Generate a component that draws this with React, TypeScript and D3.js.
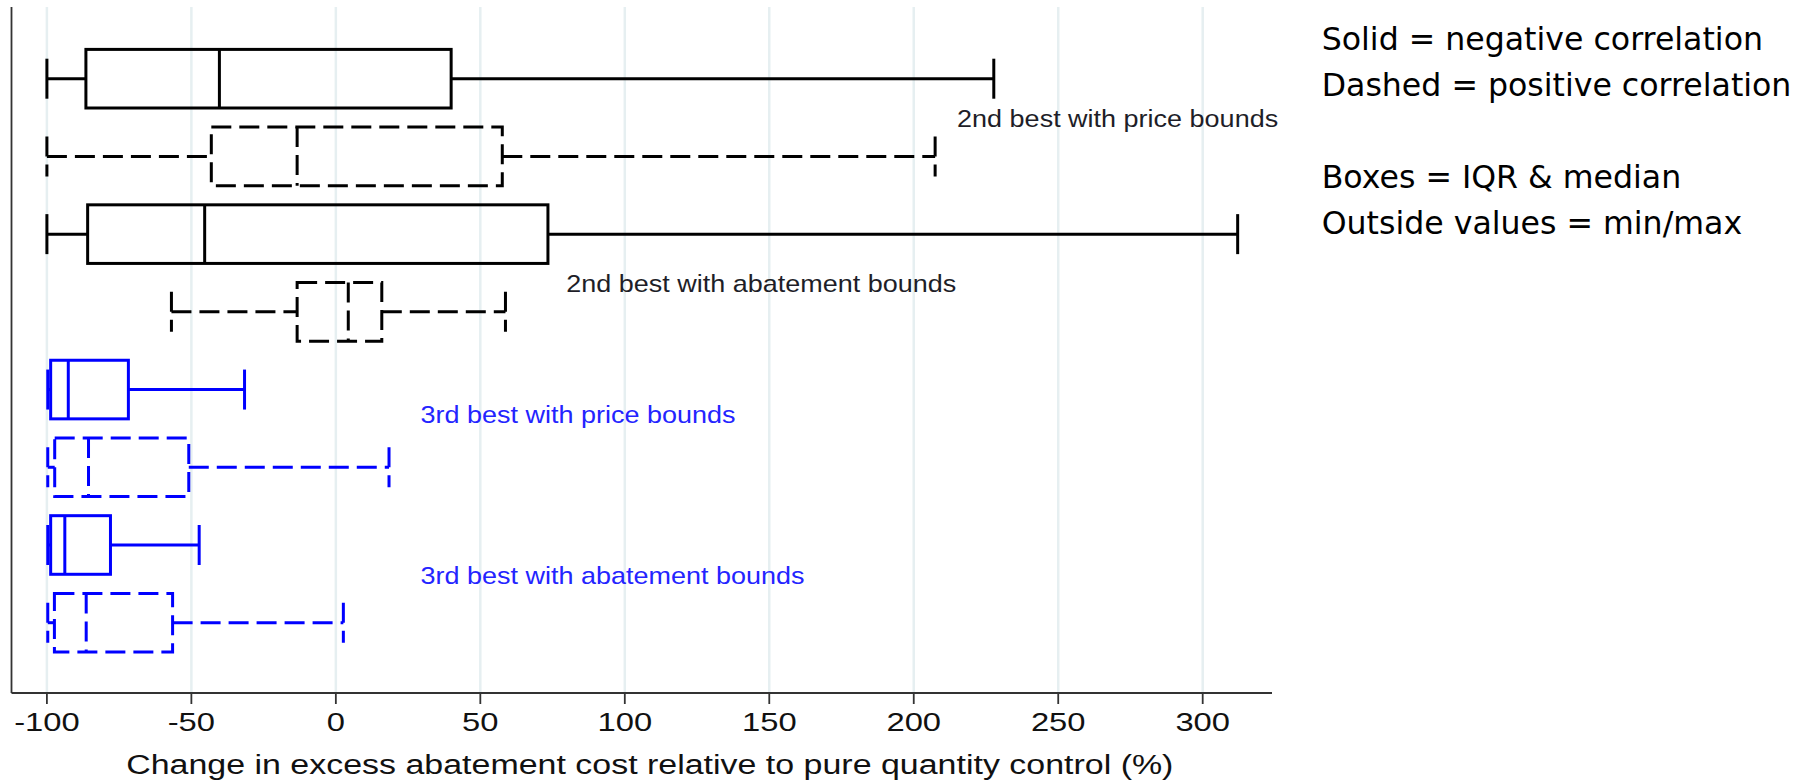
import React from 'react';
import * as d3 from 'd3';

// ---- data ----
const categories = [
  '2nd best price bounds (neg)',
  '2nd best price bounds (pos)',
  '2nd best abatement bounds (neg)',
  '2nd best abatement bounds (pos)',
  '3rd best price bounds (neg)',
  '3rd best price bounds (pos)',
  '3rd best abatement bounds (neg)',
  '3rd best abatement bounds (pos)',
];
const mins = [-100, -100, -100, -56.9, -99.7, -99.7, -99.7, -99.7];
const q1s = [-86.5, -43.1, -85.9, -13.4, -98.7, -97.3, -98.7, -97.4];
const medians = [-40.3, -13.4, -45.4, 4.3, -92.6, -85.6, -93.8, -86.4];
const q3s = [39.9, 57.6, 73.4, 15.9, -71.8, -50.9, -78.0, -56.5];
const maxs = [227.7, 207.4, 312.1, 58.7, -31.6, 18.4, -47.3, 2.6];
const dashedFlags = [false, true, false, true, false, true, false, true];
const seriesColors = ['#000000', '#000000', '#000000', '#000000', '#0000ff', '#0000ff', '#0000ff', '#0000ff'];

const xTicks = [-100, -50, 0, 50, 100, 150, 200, 250, 300];
const xTitle = 'Change in excess abatement cost relative to pure quantity control (%)';

const labelTexts = [
  '2nd best with price bounds',
  '2nd best with abatement bounds',
  '3rd best with price bounds',
  '3rd best with abatement bounds',
];
const labelXValues = [215, 79.7, 29.3, 29.3];
const labelRows = [0.51, 2.625, 4.32, 6.39];
const labelColors = ['#1e1e28', '#1e1e28', '#2424ff', '#2424ff'];

const legendLines = [
  'Solid = negative correlation',
  'Dashed = positive correlation',
  '',
  'Boxes = IQR & median',
  'Outside values = min/max',
];

export default function App() {
  const W = 1812;
  const H = 781;
  const plotTop = 7;
  const plotBottom = 693;
  const plotLeft = 11.5;
  const plotRight = 1272;

  const x = d3.scaleLinear().domain([-100, 300]).range([46.9, 1202.7]);
  const y = d3.scalePoint<string>().domain(categories).range([78.7, 622.7]);
  const rowY = d3.scaleLinear().domain([0, categories.length - 1]).range([78.7, 622.7]);

  const boxHalf = 29.3;
  const capHalf = 20;
  const sw = 3;
  const dash = '20 8';
  const arial = '"Liberation Sans", Arial, Helvetica, sans-serif';

  const boxes = categories.map((c, i) => {
    const cy = y(c) as number;
    const color = seriesColors[i];
    const da = dashedFlags[i] ? dash : undefined;
    const common = { stroke: color, strokeWidth: sw, fill: 'none', strokeDasharray: da } as any;
    return (
      <g key={c}>
        {/* lower whisker */}
        <line x1={x(mins[i])} x2={x(q1s[i])} y1={cy} y2={cy} {...common} />
        <line x1={x(mins[i])} x2={x(mins[i])} y1={cy - capHalf} y2={cy + capHalf} {...common} />
        {/* upper whisker */}
        <line x1={x(q3s[i])} x2={x(maxs[i])} y1={cy} y2={cy} {...common} />
        <line x1={x(maxs[i])} x2={x(maxs[i])} y1={cy - capHalf} y2={cy + capHalf} {...common} />
        {/* box */}
        <rect x={x(q1s[i])} y={cy - boxHalf} width={x(q3s[i]) - x(q1s[i])} height={boxHalf * 2} {...common} />
        {/* median */}
        <line x1={x(medians[i])} x2={x(medians[i])} y1={cy - boxHalf} y2={cy + boxHalf} {...common} />
      </g>
    );
  });

  return (
    <svg width={W} height={H} viewBox={`0 0 ${W} ${H}`} style={{ position: 'absolute', left: 0, top: 0, background: '#fff' }}>
      <rect x={0} y={0} width={W} height={H} fill="#ffffff" />
      {/* gridlines */}
      {xTicks.map((t) => (
        <line key={'g' + t} x1={x(t)} x2={x(t)} y1={plotTop} y2={plotBottom} stroke="#e6eff1" strokeWidth={2.5} />
      ))}
      {/* axes */}
      <line x1={plotLeft} x2={plotLeft} y1={plotTop} y2={plotBottom} stroke="#333" strokeWidth={1.8} />
      <line x1={plotLeft} x2={plotRight} y1={plotBottom} y2={plotBottom} stroke="#333" strokeWidth={1.8} />
      {xTicks.map((t) => (
        <g key={'t' + t}>
          <line x1={x(t)} x2={x(t)} y1={plotBottom} y2={plotBottom + 11} stroke="#333" strokeWidth={1.8} />
          <text
            transform={`translate(${x(t)},${730.5}) scale(1.26,1)`}
            textAnchor="middle"
            fontFamily={arial}
            fontSize={26}
            fill="#111"
          >
            {t}
          </text>
        </g>
      ))}
      <text
        transform={`translate(${(x(-100) + x(300)) / 2 + 25},${774}) scale(1.213,1)`}
        textAnchor="middle"
        fontFamily={arial}
        fontSize={28}
        fill="#111"
      >
        {xTitle}
      </text>

      {boxes}

      {/* annotations */}
      {labelTexts.map((s, i) => (
        <text
          key={s}
          transform={`translate(${x(labelXValues[i])},${rowY(labelRows[i])}) scale(1.125,1)`}
          dy="0.37em"
          fontFamily={arial}
          fontSize={24}
          fill={labelColors[i]}
        >
          {s}
        </text>
      ))}

      {/* legend notes */}
      {legendLines.map((s, i) => (
        <text
          key={'l' + i}
          x={1321.7}
          y={49.5 + i * 46.2}
          fontFamily='"DejaVu Sans", Verdana, sans-serif'
          fontSize={31.6}
          fill="#000"
        >
          {s}
        </text>
      ))}
    </svg>
  );
}
